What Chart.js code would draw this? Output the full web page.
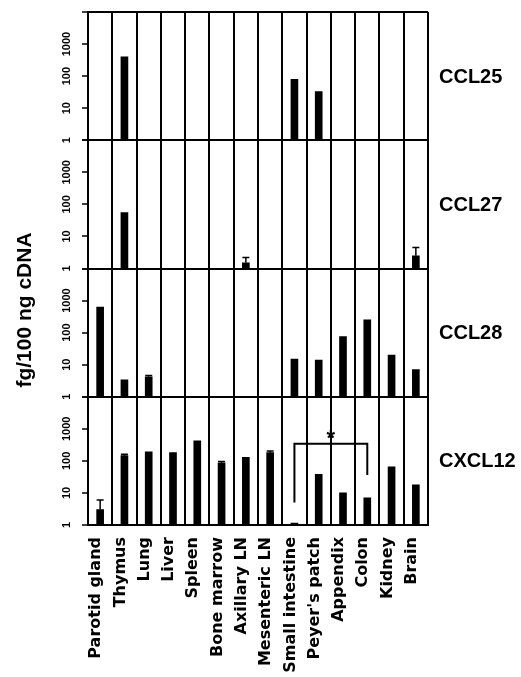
<!DOCTYPE html>
<html>
<head>
<meta charset="utf-8">
<script src="https://cdn.jsdelivr.net/npm/chart.js@4.4.0/dist/chart.umd.min.js"></script>
<style>
    html, body { margin: 0; padding: 0; background: #fff; }
    #wrap { width: 521px; height: 677px; }
</style>
</head>
<body>
<div id="wrap"><canvas id="graficoQuimiocinas" width="521" height="677"></canvas></div>
<script>
// ========== DADOS ==========

const tecidos = ["Parotid gland", "Thymus", "Lung", "Liver", "Spleen", "Bone marrow", "Axillary LN",
    "Mesenteric LN", "Small intestine", "Peyer's patch", "Appendix", "Colon", "Kidney", "Brain"];

// fg/100 ng cDNA (null = sem barra)
const ccl25  = [null, 400, null, null, null, null, null, null, 80, 33, null, null, null, null];
const ccl27  = [null, 55, null, null, null, null, 1.5, null, null, null, null, null, null, 2.5];
const ccl28  = [630, 3.4, 4.2, null, null, null, null, null, 15, 14, 75, 250, 20, 7];
const cxcl12 = [3, 145, 190, 180, 420, 87, 130, 180, 1.15, 38, 10, 7, 65, 18];

// topo das barras de erro
const ccl25Erro  = [null, null, null, null, null, null, null, null, null, null, null, null, null, null];
const ccl27Erro  = [null, null, null, null, null, null, 2.2, null, null, null, null, null, null, 4.5];
const ccl28Erro  = [null, null, 4.6, null, null, null, null, null, null, null, null, null, null, null];
const cxcl12Erro = [6, 160, null, null, null, 95, null, 205, null, null, null, null, null, null];

const ticksY = [1, 10, 100, 1000, 10000];
const rotulosTicks = ["1", "10", "100", "1000"];

// colchete de significância (Small intestine x Colon) no painel CXCL12
const colchete = { de: 8, ate: 11, topo: 340, fimEsq: 5, fimDir: 36, marca: "*" };

const paineis = [
    { nome: "CCL25",  eixo: "yCCL25",  valores: ccl25,  erros: ccl25Erro,  peso: 4 },
    { nome: "CCL27",  eixo: "yCCL27",  valores: ccl27,  erros: ccl27Erro,  peso: 3 },
    { nome: "CCL28",  eixo: "yCCL28",  valores: ccl28,  erros: ccl28Erro,  peso: 2 },
    { nome: "CXCL12", eixo: "yCXCL12", valores: cxcl12, erros: cxcl12Erro, peso: 1 }
];

// ========== EIXOS ==========

const escalas = {
    x: {
        type: "category",
        offset: true,
        afterFit: s => { s.height = 152; },
        grid: { display: true, offset: true, color: "#000", lineWidth: 2, drawTicks: false },
        border: { display: true, color: "#000", width: 2 },
        ticks: {
            autoSkip: false,
            minRotation: 90,
            maxRotation: 90,
            padding: 12,
            labelOffset: -4,
            color: "#000",
            font: { family: "DejaVu Sans", weight: "bold", size: 16 }
        }
    }
};

paineis.forEach((p, idx) => {
    escalas[p.eixo] = {
        type: "logarithmic",
        position: "left",
        stack: "paineis",
        stackWeight: 1,
        weight: p.peso,
        min: 1,
        max: 10000,
        afterBuildTicks: s => { s.ticks = ticksY.map(v => ({ value: v })); },
        afterFit: s => { s.width = 88; },
        ticks: { display: false },
        grid: {
            color: c => {
                const v = c.tick ? c.tick.value : null;
                if (v === 1) return "#000";
                if (v === 10000 && idx === 0) return "#000";
                return "rgba(0,0,0,0)";
            },
            lineWidth: 2,
            tickColor: "#000",
            tickLength: 6,
            tickWidth: 1.5
        },
        border: { display: true, color: "#000", width: 2 }
    };
});

// ========== PLUGIN: ERROS, RÓTULOS E COLCHETE ==========

const decoracoes = {
    id: "decoracoes",
    afterDatasetsDraw(chart) {
        const ctx = chart.ctx;
        const x = chart.scales.x;
        ctx.save();
        ctx.strokeStyle = "#000";
        ctx.fillStyle = "#000";
        ctx.lineWidth = 1.5;

        paineis.forEach(p => {
            const y = chart.scales[p.eixo];

            // barras de erro
            p.erros.forEach((e, i) => {
                if (e == null || p.valores[i] == null) return;
                const px = x.getPixelForValue(i);
                const y0 = y.getPixelForValue(p.valores[i]);
                const y1 = y.getPixelForValue(e);
                ctx.beginPath();
                ctx.moveTo(px, y0);
                ctx.lineTo(px, y1);
                ctx.moveTo(px - 3.5, y1);
                ctx.lineTo(px + 3.5, y1);
                ctx.stroke();
            });

            // rótulos dos ticks, girados
            ctx.font = "bold 11px 'Liberation Sans', Arial";
            ctx.textAlign = "center";
            ctx.textBaseline = "middle";
            rotulosTicks.forEach((t, i) => {
                const py = y.getPixelForValue(ticksY[i]);
                ctx.save();
                ctx.translate(67, py);
                ctx.rotate(-Math.PI / 2);
                ctx.fillText(t, 0, 0);
                ctx.restore();
            });

            // nome da quimiocina
            ctx.font = "bold 20px 'Liberation Sans', Arial";
            ctx.textAlign = "left";
            ctx.fillText(p.nome, 439, (y.top + y.bottom) / 2 + 1);
        });

        // colchete
        const yc = chart.scales.yCXCL12;
        const xa = x.getPixelForValue(colchete.de);
        const xb = x.getPixelForValue(colchete.ate);
        const yt = yc.getPixelForValue(colchete.topo);
        ctx.lineWidth = 2;
        ctx.beginPath();
        ctx.moveTo(xa, yc.getPixelForValue(colchete.fimEsq));
        ctx.lineTo(xa, yt);
        ctx.lineTo(xb, yt);
        ctx.lineTo(xb, yc.getPixelForValue(colchete.fimDir));
        ctx.stroke();
        ctx.font = "bold 22px 'Liberation Sans', Arial";
        ctx.textAlign = "center";
        ctx.textBaseline = "alphabetic";
        ctx.fillText(colchete.marca, (xa + xb) / 2, yt + 1);

        // título do eixo y
        ctx.save();
        ctx.translate(25, 310);
        ctx.rotate(-Math.PI / 2);
        ctx.font = "bold 21px 'Liberation Sans', Arial";
        ctx.textAlign = "center";
        ctx.textBaseline = "middle";
        ctx.fillText("fg/100 ng cDNA", 0, 0);
        ctx.restore();

        ctx.restore();
    }
};

// ========== GRÁFICO ==========

const canvas = document.getElementById("graficoQuimiocinas");
window.chartQuimiocinas = new Chart(canvas.getContext("2d"), {
    type: "bar",
    data: {
        labels: tecidos,
        datasets: paineis.map(p => ({
            label: p.nome,
            data: p.valores,
            yAxisID: p.eixo,
            backgroundColor: "#000",
            borderWidth: 0,
            barThickness: 7,
            grouped: false
        }))
    },
    options: {
        responsive: false,
        animation: false,
        devicePixelRatio: 1,
        layout: { padding: { left: 0, right: 93, top: 12, bottom: 0 } },
        plugins: {
            legend: { display: false },
            title: { display: false },
            tooltip: { enabled: false }
        },
        scales: escalas
    },
    plugins: [decoracoes]
});
</script>
</body>
</html>
